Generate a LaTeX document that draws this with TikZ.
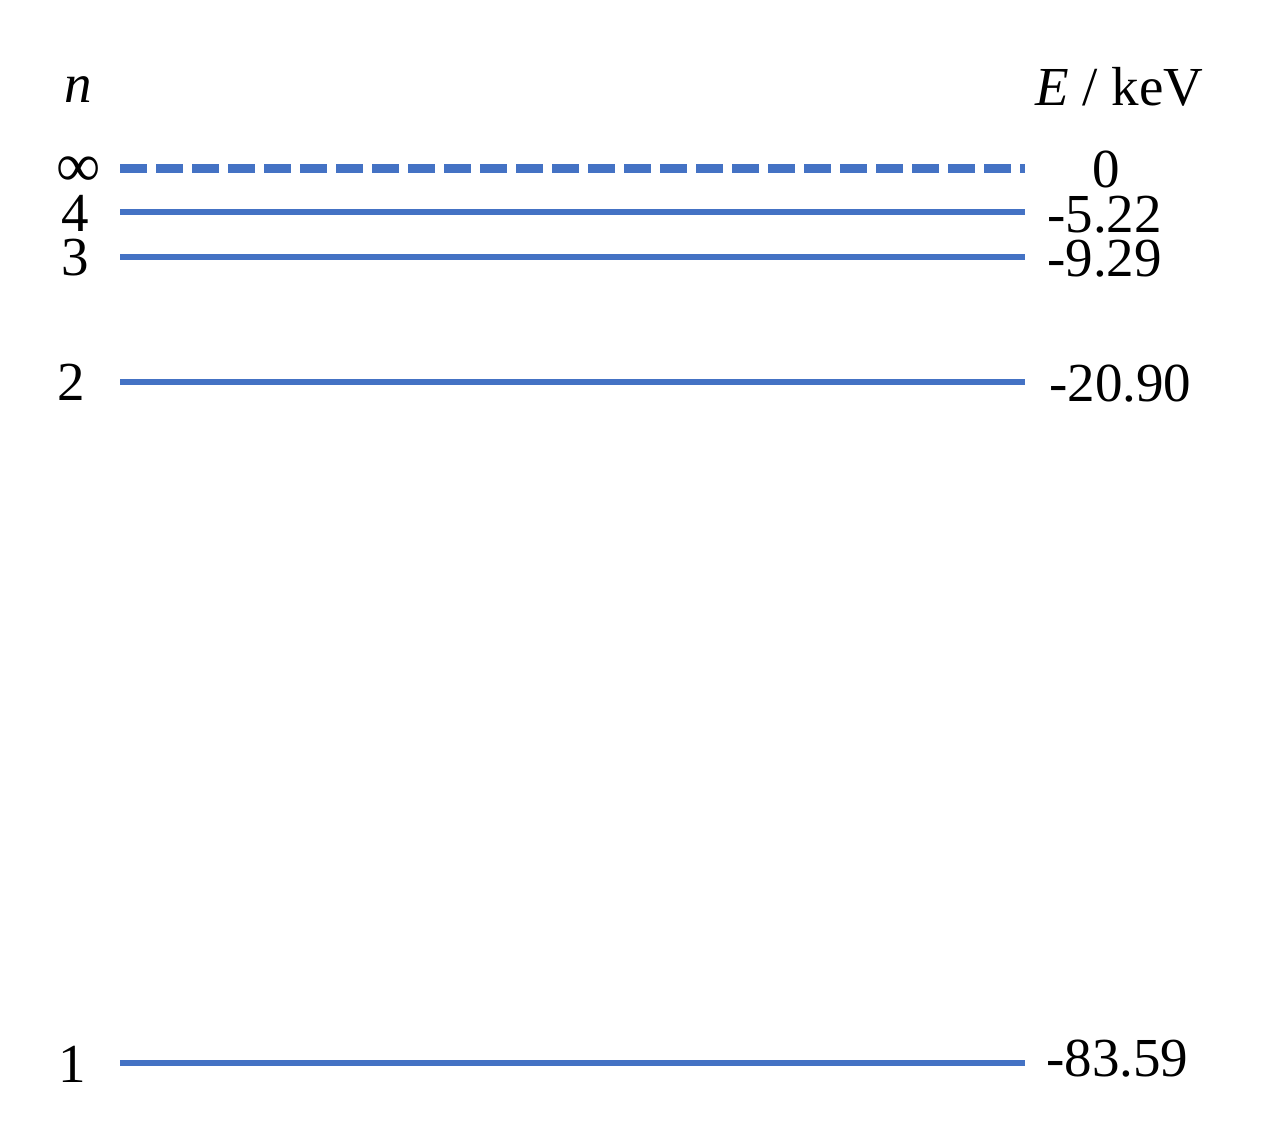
\documentclass[tikz,border=0pt]{standalone}
\usepackage{fontspec}
\setmainfont{Liberation Serif}
\definecolor{lvlblue}{HTML}{4472C4}
\begin{document}
\begin{tikzpicture}[x=1pt,y=-1pt,
  level/.style={draw=lvlblue,line width=5.5pt},
  openlevel/.style={draw=lvlblue,line width=9pt,dash pattern=on 27pt off 9pt},
  lbl/.style={inner sep=0pt,anchor=base,font=\fontsize{55}{60}\selectfont}]
\useasboundingbox (0,0) rectangle (1268,1134);
% level end points
\coordinate (inA) at (120,169); \coordinate (inB) at (1025,169);
\coordinate (l4A) at (120,212); \coordinate (l4B) at (1025,212);
\coordinate (l3A) at (120,257); \coordinate (l3B) at (1025,257);
\coordinate (l2A) at (120,382); \coordinate (l2B) at (1025,382);
\coordinate (l1A) at (120,1063); \coordinate (l1B) at (1025,1063);
\draw[openlevel] (inA) -- (inB);
\draw[level] (l4A) -- (l4B);
\draw[level] (l3A) -- (l3B);
\draw[level] (l2A) -- (l2B);
\draw[level] (l1A) -- (l1B);
% headings
\node[lbl] (nhead) at (78,103) {\textit{n}};
\node[lbl,anchor=base west] (ehead) at (1035,106) {\textit{E} / keV};
% quantum numbers
\node[lbl,font=\fontsize{62}{66}\selectfont] (ninf) at (79,186) {∞};
\node[lbl] (n4) at (75,231) {4};
\node[lbl] (n3) at (75,275) {3};
\node[lbl] (n2) at (71,400) {2};
\node[lbl] (n1) at (72,1082) {1};
% energies
\node[lbl] (e0) at (1106,187) {0};
\node[lbl,anchor=base west] (e4) at (1047,232) {-5.22};
\node[lbl,anchor=base west] (e3) at (1047,276) {-9.29};
\node[lbl,anchor=base west] (e2) at (1049,401) {-20.90};
\node[lbl,anchor=base west] (e1) at (1046,1076) {-83.59};
\end{tikzpicture}
\end{document}
